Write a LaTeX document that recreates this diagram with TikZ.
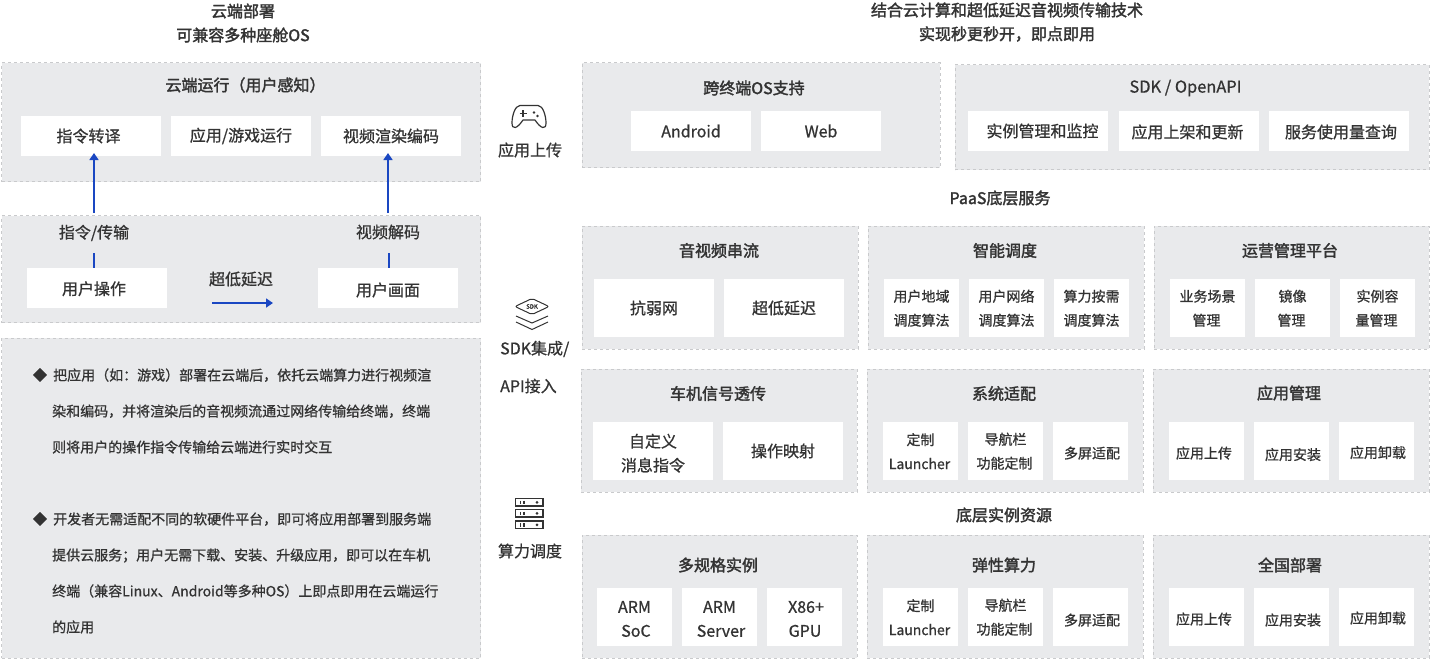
\documentclass[tikz,border=0pt]{standalone}
\usepackage{fontspec}
\setmainfont[FakeBold=0.8]{Noto Sans CJK SC}
\newfontfamily\medfont[FakeBold=2]{Noto Sans CJK SC}
\usetikzlibrary{positioning, arrows.meta}
\definecolor{panelgray}{HTML}{E9EAEC}
\definecolor{dashgray}{HTML}{C9CACC}
\definecolor{inkgray}{HTML}{333333}
\definecolor{linkblue}{HTML}{1A47C2}
\newcommand{\pad}[1]{\hspace*{#1pt}}
\newcommand{\topgap}[1]{{}\\[-#1pt]}
\tikzset{
	panel/.style={draw=dashgray, dashed, line width=0.7pt, fill=panelgray, rectangle, inner sep=0pt},
	whitebox/.style={fill=white, rectangle, inner sep=0pt, text=inkgray, align=center},
	wide/.style={whitebox, minimum width=140, minimum height=40, font=\fontsize{16}{24}\selectfont},
	mid/.style={whitebox, minimum width=120, minimum height=40, font=\fontsize{16}{24}\selectfont},
	tall/.style={whitebox, minimum width=120, minimum height=58, font=\fontsize{16}{24}\selectfont},
	slim/.style={whitebox, minimum width=75, minimum height=58, font=\fontsize{14}{24}\selectfont},
	slimbig/.style={whitebox, minimum width=75, minimum height=58, font=\fontsize{16}{24}\selectfont},
	down/.style={execute at begin node={\rule{0pt}{#1}}},
	heading/.style={text=inkgray, inner sep=0pt, font=\medfont\fontsize{16}{24}\selectfont},
	plain/.style={text=inkgray, inner sep=0pt, font=\fontsize{16}{24}\selectfont},
	para/.style={text=inkgray, inner sep=0pt, align=left, font=\fontsize{14}{36}\selectfont},
	link/.style={draw=linkblue, line width=1.7pt},
	icon/.style={draw=inkgray, line width=1.2pt},
}
\begin{document}
\begin{tikzpicture}[x=1pt, y=-1pt, >={Triangle[width=9pt, length=7pt]}]
	\useasboundingbox (0, 0) rectangle (1430, 659);

	% left column
	\node[heading] (lefttitle1) at (243, 11) {云端部署};
	\node[heading] (lefttitle2) at (243, 35) {可兼容多种座舱OS};

	\node[panel, minimum width=479, minimum height=119] (cloudpanel) at (241, 122) {};
	\node[heading] (cloudtitle) at (245.5, 85) {云端运行（用户感知）};
	\node[wide] (cmdmap) at (91, 136) {指令转译\pad{5}};
	\node[wide] (apprun) at (241, 136) {应用/游戏运行};
	\node[wide] (encode) at (391, 136) {视频渲染编码};

	\node[panel, minimum width=479, minimum height=107] (userpanel) at (241, 269) {};
	\node[plain] (cmdtrans) at (94, 233) {指令/传输};
	\node[plain] (decode) at (388, 232) {视频解码};
	\node[wide, down=15pt] (userop) at (97, 288) {用户操作\pad{6}};
	\node[plain] (lowlat) at (241, 279) {超低延迟};
	\node[wide, down=17.5pt] (userscreen) at (388, 288) {用户画面};

	\node[panel, minimum width=479, minimum height=320] (notepanel) at (241, 498) {};
	\node[para, font=\fontsize{14}{14}\selectfont] (bullet1) at (40, 375) {◆};
	\node[para, anchor=west] (note1) at (52, 411) {\hspace{1pt}把应用（如：游戏）部署在云端后，依托云端算力进行视频渲\\染和编码，并将渲染后的音视频流通过网络传输给终端，终端\\则将用户的操作指令传输给云端进行实时交互};
	\node[para, font=\fontsize{14}{14}\selectfont] (bullet2) at (40, 519) {◆};
	\node[para, anchor=west] (note2) at (52, 573) {\hspace{1pt}开发者无需适配不同的软硬件平台，即可将应用部署到服务端\\提供云服务；用户无需下载、安装、升级应用，即可以在车机\\终端（兼容Linux、Android等多种OS）上即点即用在云端运行\\的应用};

	\coordinate (cmdfoot) at (94, 213);
	\coordinate (cmdhead) at (94, 153);
	\coordinate (codefoot) at (388, 213);
	\coordinate (codehead) at (388, 153);
	\coordinate (cmdstub) at (94, 253);
	\coordinate (codestub) at (389, 253);
	\coordinate (latfoot) at (212, 303);
	\coordinate (lathead) at (273, 303);
	\draw[link, ->] (cmdfoot) -- (cmdhead);
	\draw[link, ->] (codefoot) -- (codehead);
	\draw[link] (cmdstub) -- (cmdstub |- userop.north);
	\draw[link] (codestub) -- (codestub |- userscreen.north);
	\draw[link, ->] (latfoot) -- (lathead);

	% middle icons and labels
	\draw[icon, line join=round] (520, 105.5) -- (538, 105.5) .. controls (543, 105.5) and (546, 116) .. (546, 123) .. controls (546, 130) and (541, 129) .. (535, 120) -- (523, 120) .. controls (517, 129) and (512, 130) .. (512, 123) .. controls (512, 116) and (515, 105.5) .. (520, 105.5) -- cycle;
	\draw[icon, line width=1.1pt] (519.5, 113.5) -- (526.5, 113.5) (523, 110) -- (523, 117);
	\fill[inkgray] (534, 112.5) circle (1.3) (537.5, 116) circle (1.3);
	\node[plain] (uploadlabel) at (530, 150) {应用上传};

	\draw[icon, line join=round, rounded corners=2pt, line width=1pt] (532, 298.5) -- (549, 306.5) -- (532, 314.5) -- (515, 306.5) -- cycle;
	\node[inkgray, inner sep=0pt, font=\medfont\fontsize{6}{6}\selectfont] (sdkmark) at (532, 306.5) {SDK};
	\draw[icon, line width=1pt] (516, 316) -- (532, 323) -- (548, 316);
	\draw[icon, line width=1pt] (516, 322) -- (532, 329.5) -- (548, 322);
	\node[plain, anchor=west] (sdklabel) at (500, 349) {SDK集成/};
	\node[plain, anchor=west] (apilabel) at (500, 386) {API接入};

	\draw[icon] (515.5, 498.5) rectangle (543, 506);
	\draw[icon] (515.5, 509.5) rectangle (543, 517);
	\draw[icon] (515.5, 521) rectangle (543, 528.5);
	\draw[icon] (520.5, 500.5) -- (520.5, 504) (524, 500.5) -- (524, 504) (520.5, 511.5) -- (520.5, 515) (524, 511.5) -- (524, 515) (520.5, 523) -- (520.5, 526.5) (524, 523) -- (524, 526.5);
	\fill[inkgray] (537, 502.3) circle (1.5) (537, 513.3) circle (1.5) (537, 524.8) circle (1.5);
	\node[plain] (powerlabel) at (530, 551) {算力调度};

	% right column titles
	\node[heading] (righttitle1) at (1007, 10) {结合云计算和超低延迟音视频传输技术};
	\node[heading] (righttitle2) at (1007, 34) {实现秒更秒开，即点即用};
	\node[heading] (paaslabel) at (1000, 198) {PaaS底层服务};
	\node[heading] (baselabel) at (1004, 515) {底层实例资源};

	% row one
	\node[panel, minimum width=358, minimum height=105] (multipanel) at (761, 115) {};
	\node[heading] (multititle) at (754, 88) {跨终端OS支持};
	\node[mid] (android) at (691, 131) {Android};
	\node[mid] (web) at (821, 131) {Web};

	\node[panel, minimum width=474, minimum height=105] (sdkpanel) at (1192, 117) {};
	\node[plain, font=\fontsize{16.4}{24}\selectfont] (sdktitle) at (1185.5, 88) {SDK / OpenAPI};
	\node[wide] (instmon) at (1038, 131) {\pad{9}实例管理和监控};
	\node[wide, down=15.5pt] (applist) at (1189, 131) {应用上架和更新\pad{3}};
	\node[wide, down=15.5pt] (usage) at (1339, 131) {\pad{4}服务使用量查询};

	% row two
	\node[panel, minimum width=276, minimum height=123] (avpanel) at (720, 287.5) {};
	\node[heading] (avtitle) at (719, 250.5) {音视频串流};
	\node[tall] (weaknet) at (654, 308) {抗弱网};
	\node[tall] (ultralow) at (784, 308) {超低延迟};

	\node[panel, minimum width=276, minimum height=123] (schedpanel) at (1006, 287.5) {};
	\node[heading] (schedtitle) at (1005, 250.5) {智能调度};
	\node[slim] (geoalgo) at (921.5, 308) {\topgap{11.7}用户地域\\调度算法};
	\node[slim] (netalgo) at (1006.5, 308) {\topgap{11.7}用户网络\\调度算法};
	\node[slim] (needalgo) at (1091.5, 308) {\topgap{11.7}算力按需\\调度算法};

	\node[panel, minimum width=275, minimum height=123] (opspanel) at (1291.5, 287.5) {};
	\node[heading] (opstitle) at (1290, 250.5) {运营管理平台};
	\node[slim] (scene) at (1207.5, 308) {\topgap{11.7}业务场景\pad{2}\\管理\pad{2}};
	\node[slim] (mirror) at (1292.5, 308) {\topgap{11.7}镜像\pad{2}\\管理\pad{2}};
	\node[slim] (capacity) at (1377.5, 308) {\topgap{11.7}实例容\pad{2}\\量管理\pad{2}};

	% row three
	\node[panel, minimum width=276, minimum height=123] (canpanel) at (719, 430.5) {};
	\node[heading] (cantitle) at (718, 393.5) {车机信号透传};
	\node[tall] (custommsg) at (653, 451) {\topgap{6}自定义\\消息指令};
	\node[tall] (opmap) at (783, 451) {操作映射};

	\node[panel, minimum width=276, minimum height=123] (syspanel) at (1005, 430.5) {};
	\node[heading] (systitle) at (1004, 393.5) {系统适配};
	\node[slim] (launcher1) at (920.5, 451) {\topgap{11.7}定制\pad{3}\\Launcher\pad{2}};
	\node[slim] (navbar1) at (1005.5, 451) {\topgap{11.7}导航栏\\功能定制\pad{2}};
	\node[slim, down=16pt] (screens1) at (1090.5, 451) {\pad{3}多屏适配};

	\node[panel, minimum width=276, minimum height=123] (apppanel) at (1291, 430.5) {};
	\node[heading] (apptitle) at (1289, 393) {应用管理};
	\node[slim, down=16pt] (upload1) at (1206.5, 451) {应用上传\pad{5}};
	\node[slim, down=19pt] (install1) at (1291.5, 451) {\pad{3}应用安装};
	\node[slim, down=15pt] (remove1) at (1376.5, 451) {\pad{3}应用卸载};

	% row four
	\node[panel, minimum width=275, minimum height=123] (specpanel) at (719.5, 596.5) {};
	\node[heading] (spectitle) at (718, 565) {多规格实例};
	\node[slimbig] (armsoc) at (634.5, 617) {\topgap{8.3}ARM\pad{3}\\\pad{3}SoC};
	\node[slimbig] (armserver) at (719.5, 617) {\topgap{8.3}ARM\pad{3}\\\pad{3}Server};
	\node[slimbig] (xgpu) at (804.5, 617) {\topgap{8.3}\pad{3}X86+\\\pad{1}GPU};

	\node[panel, minimum width=276, minimum height=123] (elasticpanel) at (1005, 596.5) {};
	\node[heading] (elastictitle) at (1004, 565) {弹性算力};
	\node[slim] (launcher2) at (920.5, 617) {\topgap{11.7}定制\pad{3}\\Launcher\pad{2}};
	\node[slim] (navbar2) at (1005.5, 617) {\topgap{11.7}导航栏\\功能定制\pad{2}};
	\node[slim, down=18pt] (screens2) at (1090.5, 617) {\pad{3}多屏适配};

	\node[panel, minimum width=276, minimum height=123] (nationpanel) at (1291, 596.5) {};
	\node[heading] (nationtitle) at (1290, 565) {全国部署};
	\node[slim, down=16pt] (upload2) at (1206.5, 617) {应用上传\pad{5}};
	\node[slim, down=18pt] (install2) at (1291.5, 617) {\pad{3}应用安装};
	\node[slim, down=14pt] (remove2) at (1376.5, 617) {\pad{3}应用卸载};
\end{tikzpicture}
\end{document}
